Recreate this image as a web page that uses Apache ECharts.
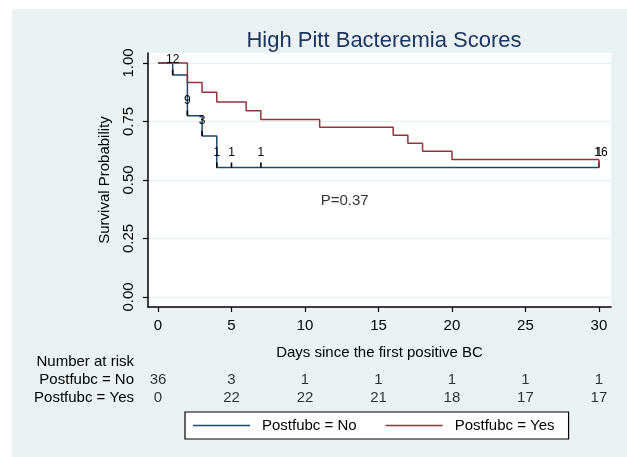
<!DOCTYPE html>
<html><head><meta charset="utf-8">
<script src="https://cdn.jsdelivr.net/npm/echarts@6/dist/echarts.min.js"></script>
<style>html,body{margin:0;padding:0;background:#fff}#c{width:627px;height:457px}</style>
</head><body><div id="c"></div>
<script>
const chartTitle = 'High Pitt Bacteremia Scores';
const xTicks = [0, 5, 10, 15, 20, 25, 30];
const yTicks = [0, 0.25, 0.5, 0.75, 1];
const groups = ['Postfubc = No', 'Postfubc = Yes'];
const noTimes = [0, 1, 2, 3, 4, 30];
const noSurv = [1, 0.949, 0.775, 0.688, 0.553, 0.553];
const yesTimes = [0, 2, 3, 4, 6, 7, 11, 16, 17, 18, 20, 30];
const yesSurv = [1, 0.917, 0.875, 0.833, 0.796, 0.759, 0.725, 0.691, 0.657, 0.623, 0.588, 0.588];
const noCensorDays = [1, 2, 3, 4, 5, 7, 30];
const noCensorCounts = [12, 9, 3, 1, 1, 1, 1];
const yesCensorDays = [30];
const yesCensorCounts = [16];
const riskHeader = 'Number at risk';
const riskDays = [0, 5, 10, 15, 20, 25, 30];
const riskNo = [36, 3, 1, 1, 1, 1, 1];
const riskYes = [0, 22, 22, 21, 18, 17, 17];
const pLabel = 'P=0.37';
const xTitle = 'Days since the first positive BC';
const yTitle = 'Survival Probability';

const FONT = '"Liberation Sans", Arial, sans-serif';
const BLUE = '#1a476f', RED = '#90353b';

function survAt(times, surv, d) {
  let v = surv[0];
  for (let i = 0; i < times.length; i++) if (times[i] <= d) v = surv[i];
  return v;
}
function censorSeries(days, counts, times, surv, tickDir, tickColor, labelOff, labelDx) {
  const data = days.map((d, i) => [d, survAt(times, surv, d), counts[i]]);
  return {
    type: 'custom', xAxisIndex: 0, yAxisIndex: 0, data: data, z: 5, silent: true, clip: false,
    renderItem: function (params, api) {
      const p = api.coord([api.value(0), api.value(1)]);
      return { type: 'group', children: [
        { type: 'line', shape: { x1: p[0], y1: p[1], x2: p[0], y2: p[1] + tickDir }, style: { stroke: tickColor, lineWidth: 1.6 } },
        { type: 'text', style: { text: String(api.value(2)), x: p[0] + labelDx, y: p[1] - labelOff, align: 'center', verticalAlign: 'middle', font: '12px ' + FONT, fill: '#000' } }
      ] };
    }
  };
}

const chart = echarts.init(document.getElementById('c'), null, { renderer: 'canvas' });
const option = {
  animation: false,
  backgroundColor: '#eaf2f3',
  graphic: [
    { type: 'rect', shape: { x: 0, y: 0, width: 12, height: 457 }, style: { fill: '#fff' } },
    { type: 'rect', shape: { x: 0, y: 0, width: 627, height: 9 }, style: { fill: '#fff' } },
    { type: 'text', style: { text: riskHeader, x: 134, y: 362, align: 'right', verticalAlign: 'middle', font: '15px ' + FONT, fill: '#000' } }
  ],
  title: { text: chartTitle, left: 379, top: 25, textAlign: 'center', textStyle: { fontFamily: FONT, fontSize: 22, fontWeight: 'normal', color: '#1e3560' } },
  legend: {
    data: groups.map(g => ({ name: g, icon: 'rect' })), left: 185, top: 412, itemWidth: 57, itemHeight: 1.5, itemGap: 29,
    padding: [6, 14, 6, 8], borderColor: '#000', borderWidth: 1.2, backgroundColor: '#fff',
    textStyle: { fontFamily: FONT, fontSize: 15, color: '#000', padding: [0, 2, 0, 7] }
  },
  grid: [
    { left: 148, top: 53, width: 463, height: 254, show: true, backgroundColor: '#fff', borderWidth: 0 },
    { left: 148, top: 371, width: 463, height: 36, show: false }
  ],
  xAxis: [
    { type: 'value', gridIndex: 0, min: -0.68, max: 30.82,
      name: xTitle, nameLocation: 'middle', nameGap: 38, nameTextStyle: { fontFamily: FONT, fontSize: 15, color: '#000' },
      axisLine: { show: true, onZero: false, lineStyle: { color: '#000', width: 1.5 } },
      axisTick: { show: true, length: 5, customValues: xTicks, lineStyle: { color: '#000', width: 1.2 } },
      axisLabel: { customValues: xTicks, margin: 11, fontFamily: FONT, fontSize: 15, color: '#000' },
      splitLine: { show: false } },
    { type: 'value', gridIndex: 1, min: -0.68, max: 30.82, show: false }
  ],
  yAxis: [
    { type: 'value', gridIndex: 0, min: -0.0427, max: 1.0427,
      name: yTitle, nameLocation: 'middle', nameGap: 36, nameTextStyle: { fontFamily: FONT, fontSize: 15, color: '#000' },
      axisLine: { show: true, onZero: false, lineStyle: { color: '#000', width: 1.5 } },
      axisTick: { show: true, length: 5, customValues: yTicks, lineStyle: { color: '#000', width: 1.2 } },
      axisLabel: { customValues: yTicks, rotate: 90, margin: 12, fontFamily: FONT, fontSize: 15, color: '#000', formatter: v => v.toFixed(2) },
      splitLine: { show: true, lineStyle: { color: '#e6eef0', width: 1.2 } } },
    { type: 'category', gridIndex: 1, data: groups, inverse: true,
      axisLine: { show: false }, axisTick: { show: false },
      axisLabel: { interval: 0, margin: 14, fontFamily: FONT, fontSize: 15, color: '#000', align: 'right' } }
  ],
  series: [
    { name: groups[0], type: 'line', step: 'end', symbol: 'none', data: noTimes.map((t, i) => [t, noSurv[i]]), lineStyle: { color: BLUE, width: 1.5 }, itemStyle: { color: BLUE }, z: 3 },
    { name: groups[1], type: 'line', step: 'end', symbol: 'none', data: yesTimes.map((t, i) => [t, yesSurv[i]]), lineStyle: { color: RED, width: 1.5 }, itemStyle: { color: RED }, z: 4 },
    censorSeries(noCensorDays, noCensorCounts, noTimes, noSurv, -5, '#000', 15, 0),
    censorSeries(yesCensorDays, yesCensorCounts, yesTimes, yesSurv, 8, RED, 7, 2),
    { type: 'scatter', xAxisIndex: 0, yAxisIndex: 0, symbolSize: 0, silent: true, data: [[12.7, 0.41]],
      label: { show: true, position: 'inside', formatter: pLabel, fontFamily: FONT, fontSize: 15, color: '#000' } },
    { type: 'scatter', xAxisIndex: 1, yAxisIndex: 1, symbolSize: 0, silent: true,
      data: riskDays.map((d, i) => [d, 0, riskNo[i]]),
      label: { show: true, position: 'inside', formatter: p => String(p.value[2]), fontFamily: FONT, fontSize: 15, color: '#000' } },
    { type: 'scatter', xAxisIndex: 1, yAxisIndex: 1, symbolSize: 0, silent: true,
      data: riskDays.map((d, i) => [d, 1, riskYes[i]]),
      label: { show: true, position: 'inside', formatter: p => String(p.value[2]), fontFamily: FONT, fontSize: 15, color: '#000' } }
  ]
};
chart.setOption(option);
</script></body></html>
